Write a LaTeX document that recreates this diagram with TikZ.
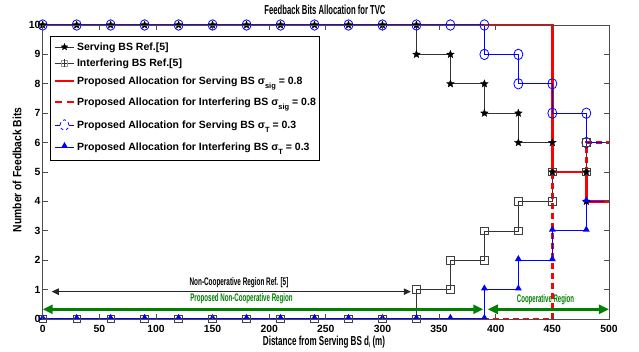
\documentclass[tikz,border=0pt]{standalone}
\usepackage{fontspec}
\setmainfont{Liberation Sans}
\usetikzlibrary{shapes.geometric,arrows.meta}
\newcommand\nrw[2]{\scalebox{#1}[1]{#2}}
\newcommand\sub[1]{\raisebox{-3.2pt}{\fontsize{7.5}{8}\selectfont #1}}
\begin{document}
\begin{tikzpicture}[x=1pt,y=1pt,
  every node/.style={inner sep=0pt, outer sep=0pt},
  ticklab/.style={font=\fontsize{10.4}{11}\selectfont\bfseries},
  legtxt/.style={font=\fontsize{10.5}{12}\selectfont\bfseries, anchor=base west},
  starm/.style={star, star points=5, star point ratio=2.3, fill=black, draw=black, line width=0.3pt, minimum size=8pt},
  sqm/.style={rectangle, draw=black!75, line width=0.8pt, minimum size=7.5pt},
  cirm/.style={ellipse, draw=blue, line width=0.8pt, minimum width=9pt, minimum height=10.5pt},
  trim/.style={regular polygon, regular polygon sides=3, fill=blue, minimum size=8pt},
  refline/.style={draw=black!80, line width=0.6pt},
  redsolid/.style={draw=red, line width=2.8pt},
  reddash/.style={draw=red, line width=2.8pt, dash pattern=on 6pt off 4pt},
  blueline/.style={draw=blue, line width=0.8pt},
  grnarrow/.style={draw=green!50!black, line width=2.4pt, {Triangle[length=10pt,width=9pt]}-{Triangle[length=10pt,width=9pt]}},
  blkarrow/.style={draw=black!85, line width=0.8pt, {Triangle[length=7pt,width=6.5pt]}-{Triangle[length=7pt,width=6.5pt]}},
  frame/.style={draw=black!70, line width=0.8pt},
  narrowtxt/.style={font=\fontsize{11}{12}\selectfont\bfseries},
]
\useasboundingbox (0,0) rectangle (639,351);
\fill[white] (0,0) rectangle (639,351);

\begin{scope}[shift={(42.7,32)}, x=1.1325pt, y=29.4pt]
% ---- data lines, clipped to the axes ----
\begin{scope}
\clip (0,0) rectangle (500,10);
% Serving BS Ref.[5]
\draw[refline] (0,10) -- (330,10) -- (330,9) -- (360,9) -- (360,8) -- (390,8) -- (390,7) -- (420,7) -- (420,6) -- (450,6) -- (450,5) -- (480,5) -- (480,4) -- (500,4);
% Interfering BS Ref.[5]
\draw[refline] (0,0) -- (330,0) -- (330,1) -- (360,1) -- (360,2) -- (390,2) -- (390,3) -- (420,3) -- (420,4) -- (450,4) -- (450,5) -- (480,5) -- (480,6) -- (500,6);
% Proposed serving sigma_sig
\draw[redsolid] (0,10) -- (450,10) -- (450,5) -- (480,5) -- (480,4) -- (500,4);
% Proposed interfering sigma_sig
\draw[reddash] (0,0) -- (450,0) -- (450,5) -- (480,5) -- (480,6) -- (500,6);
% Proposed serving sigma_T
\draw[blueline, line width=1.4pt, draw=blue!75!red] (0,10) -- (390,10);
\draw[blueline] (390,10) -- (390,9) -- (420,9) -- (420,8) -- (450,8) -- (450,7) -- (480,7) -- (480,6) -- (500,6);
% Proposed interfering sigma_T
\draw[blueline, line width=1.4pt] (0,0) -- (390,0);
\draw[blueline] (390,0) -- (390,1) -- (420,1) -- (420,2) -- (450,2) -- (450,3) -- (480,3) -- (480,4) -- (500,4);
\end{scope}

% ---- markers ----
\foreach \x in {0,30,...,390} \node[cirm] (ci-\x-10) at (\x,10) {};
\foreach \x/\y in {390/9,420/9,420/8,450/8,450/7,480/7,480/6} \node[cirm] (ci-\x-\y) at (\x,\y) {};
\foreach \x in {0,30,...,330} \node[starm] (st-\x-10) at (\x,10) {};
\foreach \x/\y in {330/9,360/9,360/8,390/8,390/7,420/7,420/6,450/6,450/5,480/5,480/4} \node[starm] (st-\x-\y) at (\x,\y) {};
\foreach \x in {0,30,...,330} \node[sqm] (sq-\x-0) at (\x,0) {};
\foreach \x/\y in {330/1,360/1,360/2,390/2,390/3,420/3,420/4,450/4,450/5,480/5,480/6} \node[sqm] (sq-\x-\y) at (\x,\y) {};
\foreach \x in {0,30,...,390} \node[trim] (tr-\x-0) at (\x,0.04) {};
\foreach \x/\y in {390/1,420/1,420/2,450/2,450/3,480/3,480/4} \node[trim] (tr-\x-\y) at (\x,\y+0.04) {};

% frame and ticks
\draw[frame] (0,0) rectangle (500,10);
\foreach \x in {50,100,...,450} {
  \draw[frame] (\x,0) -- ++(0,5pt);
  \draw[frame] (\x,10) -- ++(0,-5pt);
}
\foreach \y in {1,...,9} {
  \draw[frame] (0,\y) -- ++(5pt,0);
  \draw[frame] (500,\y) -- ++(-5pt,0);
}
\foreach \x in {0,50,...,500} \node[ticklab] (xt-\x) at ([yshift=-10pt]\x,0) {\x};
\foreach \y in {0,...,10} \node[ticklab, anchor=east] (yt-\y) at ([xshift=-2.2pt]0,\y) {\y};

% region arrows
\coordinate (nc-l) at (8,0.93);
\coordinate (nc-r) at (325,0.93);
\draw[blkarrow] (nc-l) -- (nc-r);
\coordinate (gp-l) at (0,0.33);
\coordinate (gp-r) at (389,0.33);
\draw[grnarrow] (gp-l) -- (gp-r);
\coordinate (gc-l) at (393,0.33);
\coordinate (gc-r) at (500,0.33);
\draw[grnarrow] (gc-l) -- (gc-r);
\end{scope}

% region labels
\node[narrowtxt] (nclab) at (239,68) {\nrw{0.58}{Non-Cooperative Region Ref. [5]}};
\node[narrowtxt, text=green!50!black] (gplab) at (241.5,52) {\nrw{0.56}{Proposed Non-Cooperative Region}};
\node[narrowtxt, text=green!50!black] (gclab) at (545.5,51) {\nrw{0.55}{Cooperative Region}};

% title and axis labels
\node[font=\fontsize{13}{13}\selectfont\bfseries] (title) at (325,341) {\nrw{0.59}{Feedback Bits Allocation for TVC}};
\node[font=\fontsize{13}{13}\selectfont\bfseries] (xlab) at (324,9) {\nrw{0.62}{Distance from Serving BS d\raisebox{-2pt}{\fontsize{7}{7}\selectfont i} (m)}};
\node[font=\fontsize{12}{12}\selectfont\bfseries, rotate=90] (ylab) at (17,181) {\nrw{0.86}{Number of Feedback Bits}};

% legend
\draw[draw=black, line width=0.8pt, fill=white] (50,191) rectangle (319,315);
\draw[refline] (55,304) -- (74,304);
\node[starm, minimum size=7pt] (lm1) at (64.5,304) {};
\node[legtxt] (leg1) at (77,300) {Serving BS Ref.[5]};
\draw[refline] (55,288) -- (74,288);
\node[sqm, minimum size=6pt, draw=black!40] (lm2) at (64.5,288) {};
\draw[refline] (64.5,284) -- (64.5,292);
\node[legtxt] (leg2) at (77,284) {Interfering BS Ref.[5]};
\draw[redsolid] (55,270) -- (74,270);
\node[legtxt] (leg3) at (77,266) {Proposed Allocation for Serving BS σ\sub{sig} = 0.8};
\draw[reddash, dash pattern=on 7pt off 5pt] (55,249) -- (75,249);
\node[legtxt] (leg4) at (77,245) {Proposed Allocation for Interfering BS σ\sub{sig} = 0.8};
\draw[blueline] (55,226) -- (74,226);
\node[cirm, dashed, fill=white] (lm5) at (64.5,226) {};
\node[legtxt] (leg5) at (77,222) {Proposed Allocation for Serving BS σ\sub{T} = 0.3};
\draw[blueline] (55,204) -- (74,204);
\node[trim] (lm6) at (64.5,205) {};
\node[legtxt] (leg6) at (77,200) {Proposed Allocation for Interfering BS σ\sub{T} = 0.3};
\end{tikzpicture}
\end{document}
